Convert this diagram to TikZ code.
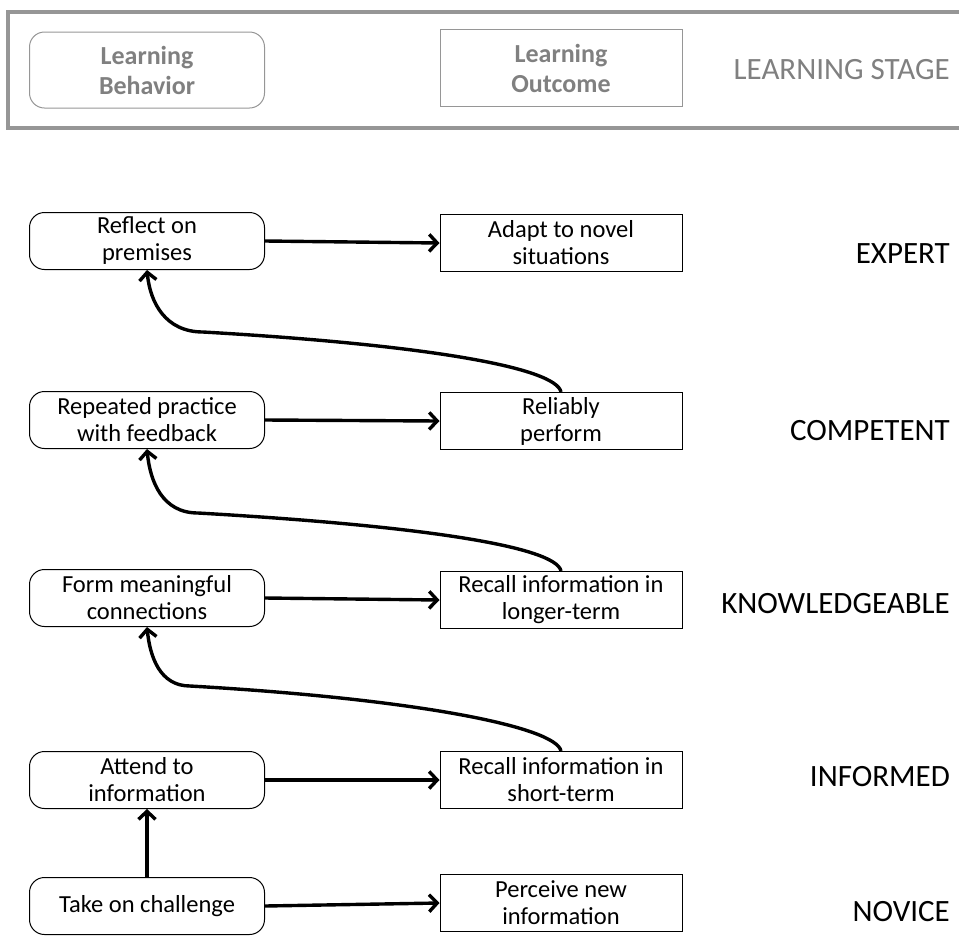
\documentclass[tikz,border=0pt]{standalone}
\usepackage{fontspec}
\setmainfont{Carlito}
\usetikzlibrary{arrows.meta}

\definecolor{headgray}{RGB}{128,128,128}
\definecolor{framegray}{RGB}{150,150,150}

\tikzset{
  behavior/.style={draw, rounded corners=15pt, minimum width=235pt, minimum height=57pt,
    align=center, line width=1pt, font=\fontsize{24.5}{27}\selectfont},
  outcome/.style={draw, minimum width=242pt, minimum height=57pt,
    align=center, line width=1pt, font=\fontsize{24.5}{27}\selectfont},
  stagelabel/.style={anchor=east, inner sep=0pt, font=\fontsize{31}{35}\selectfont},
  flow/.style={line width=3.4pt, -{Straight Barb[length=8pt,width=17pt,line width=3.4pt]}}
}

\begin{document}
\begin{tikzpicture}[x=1pt,y=-1pt]

\useasboundingbox (0,0) rectangle (959,938);

% legend
\draw[line width=4pt, framegray] (8,12) rectangle (975,128);
\node[behavior, draw=framegray, text=headgray, minimum height=76pt,
  font=\fontsize{26}{30}\selectfont\bfseries] (lb) at (147,70) {Learning\\Behavior};
\node[outcome, draw=framegray, text=headgray, minimum height=77pt,
  font=\fontsize{26}{30}\selectfont\bfseries] (lo) at (561,68) {Learning\\Outcome};
\node[stagelabel, text=headgray] (ls) at (950,70) {LEARNING STAGE};

% behaviors
\node[behavior] (l1) at (147,241) {Reflect on\\premises};
\node[behavior] (l2) at (147,420) {Repeated practice\\with feedback};
\node[behavior] (l3) at (147,598) {Form meaningful\\connections};
\node[behavior] (l4) at (147,780) {Attend to\\information};
\node[behavior] (l5) at (147,906) {Take on challenge};

% outcomes
\node[outcome] (r1) at (561,243) {Adapt to novel\\situations};
\node[outcome] (r2) at (561,421) {Reliably\\perform};
\node[outcome] (r3) at (561,600) {Recall information in\\longer-term};
\node[outcome] (r4) at (561,780) {Recall information in\\short-term};
\node[outcome] (r5) at (561,903) {Perceive new\\information};

% stages
\node[stagelabel] (s1) at (950,254) {EXPERT};
\node[stagelabel] (s2) at (950,431) {COMPETENT};
\node[stagelabel] (s3) at (950,604) {KNOWLEDGEABLE};
\node[stagelabel] (s4) at (950,777) {INFORMED};
\node[stagelabel] (s5) at (950,912) {NOVICE};

\coordinate (b1) at (203,332);
\coordinate (b2) at (198,513);
\coordinate (b3) at (190,686);

\draw[flow] (l1.east) -- (r1.west);
\draw[flow] (l2.east) -- (r2.west);
\draw[flow] (l3.east) -- (r3.west);
\draw[flow] (l4.east) -- (r4.west);
\draw[flow] (l5.east) -- (r5.west);

\draw[flow] (r2.north) .. controls +(-5,-24) and +(227,13) .. (b1)
  .. controls +(-38,0) and +(3,32) .. (l1.south);
\draw[flow] (r3.north) .. controls +(-5,-24) and +(227,13) .. (b2)
  .. controls +(-36,0) and +(3,32) .. (l2.south);
\draw[flow] (r4.north) .. controls +(-5,-24) and +(227,13) .. (b3)
  .. controls +(-30,0) and +(3,30) .. (l3.south);
\draw[flow] (l5.north) -- (l4.south);

\end{tikzpicture}
\end{document}
